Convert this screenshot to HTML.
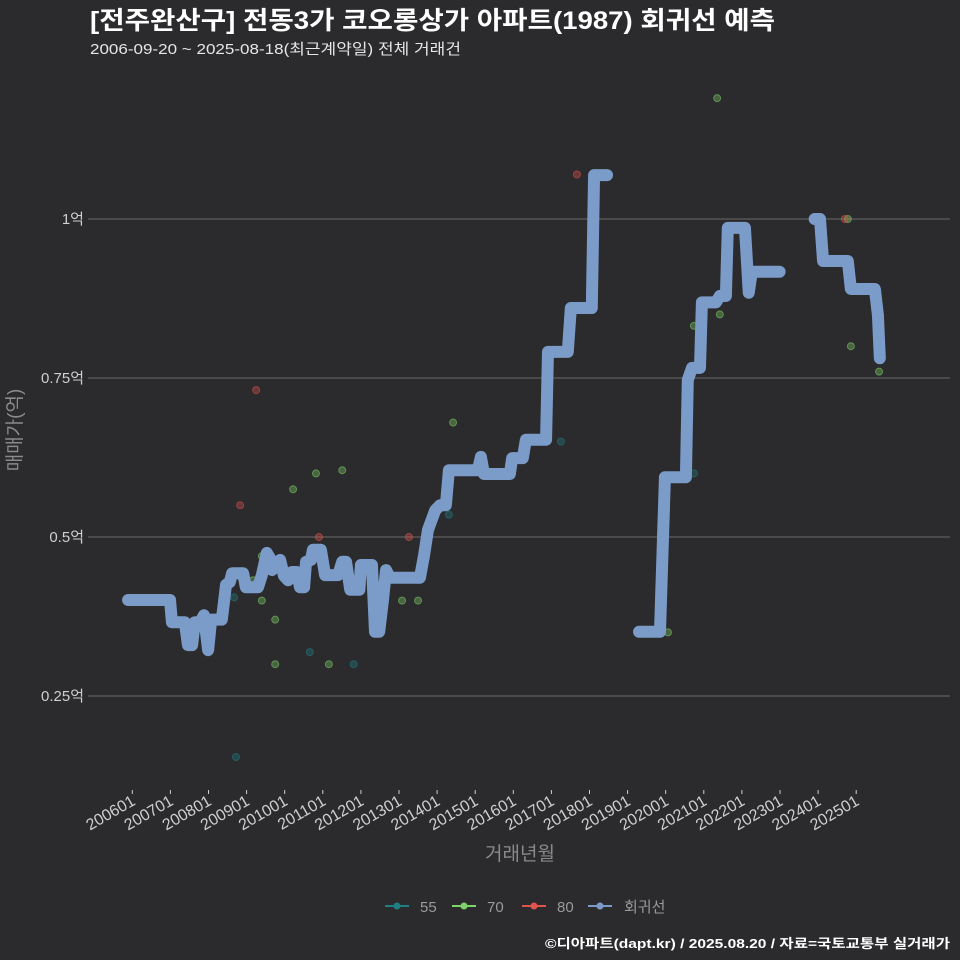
<!DOCTYPE html>
<html><head><meta charset="utf-8"><style>
html,body{margin:0;padding:0;background:#2b2a2c;width:960px;height:960px;overflow:hidden}
svg text{font-family:"Liberation Sans","Noto Sans CJK KR",sans-serif}
</style></head><body>
<svg id="chart" width="960" height="960" xmlns="http://www.w3.org/2000/svg">
<rect width="960" height="960" fill="#2b2a2c"/>
<text x="90" y="29" font-size="25" font-weight="bold" fill="#ffffff" textLength="685" lengthAdjust="spacingAndGlyphs">[전주완산구] 전동3가 코오롱상가 아파트(1987) 회귀선 예측</text>
<text x="90" y="54" font-size="15" fill="#e6e6e6" textLength="371" lengthAdjust="spacingAndGlyphs">2006-09-20 ~ 2025-08-18(최근계약일) 전체 거래건</text>
<g id="grid"></g>
<g id="yaxis"></g>
<g id="xaxis"></g>
<g id="dots"></g>
<g id="line"></g>
<text x="21" y="430" font-size="19" fill="#8a8a8a" text-anchor="middle" transform="rotate(-90 21 430)">매매가(억)</text>
<text x="520" y="860" font-size="19" fill="#8a8a8a" text-anchor="middle">거래년월</text>
<g font-size="15" fill="#9a9a9a">
<g><line x1="385" y1="906" x2="409" y2="906" stroke="#1f7f84" stroke-width="2"/><circle cx="397" cy="906" r="3.5" fill="#1f7f84"/><text x="420" y="912">55</text></g>
<g><line x1="452" y1="906" x2="476" y2="906" stroke="#7ed26a" stroke-width="2"/><circle cx="464" cy="906" r="3.5" fill="#7ed26a"/><text x="487" y="912">70</text></g>
<g><line x1="522" y1="906" x2="546" y2="906" stroke="#e0534f" stroke-width="2"/><circle cx="534" cy="906" r="3.5" fill="#e0534f"/><text x="557" y="912">80</text></g>
<g><line x1="588" y1="906" x2="612" y2="906" stroke="#7b9cc8" stroke-width="2"/><circle cx="600" cy="906" r="3.5" fill="#7b9cc8"/><text x="624" y="912">회귀선</text></g>
</g>
<text x="950" y="948" font-size="13" font-weight="bold" fill="#ffffff" text-anchor="end" textLength="405" lengthAdjust="spacingAndGlyphs">©디아파트(dapt.kr) / 2025.08.20 / 자료=국토교통부 실거래가</text>
</svg>
<script>
const yTicks=[0.25,0.5,0.75,1];
const yTickLabels=["0.25억","0.5억","0.75억","1억"];
const xTicks=[2006,2007,2008,2009,2010,2011,2012,2013,2014,2015,2016,2017,2018,2019,2020,2021,2022,2023,2024,2025];
const xTickLabels=["200601","200701","200801","200901","201001","201101","201201","201301","201401","201501","201601","201701","201801","201901","202001","202101","202201","202301","202401","202501"];
const s55T=[2008.72,2010.66,2011.81,2014.31,2017.25,2020.74,2008.67];
const s55V=[0.154,0.319,0.300,0.535,0.650,0.600,0.405];
const s70T=[2009.17,2009.40,2009.40,2009.75,2009.75,2010.22,2010.82,2011.16,2011.51,2013.08,2013.50,2014.42,2020.74,2021.35,2021.42,2024.78,2024.86,2025.60,2020.06];
const s70V=[0.432,0.400,0.470,0.370,0.300,0.575,0.600,0.300,0.605,0.400,0.400,0.680,0.832,1.190,0.850,1.000,0.800,0.760,0.350];
const s80T=[2008.83,2009.25,2010.90,2013.26,2017.67,2024.70];
const s80V=[0.550,0.731,0.500,0.500,1.070,1.000];
const regT=[2005.89,2006.99,2007.04,2007.38,2007.46,2007.57,2007.64,2007.78,2007.88,2007.99,2008.07,2008.35,2008.46,2008.56,2008.62,2008.91,2008.98,2009.30,2009.40,2009.53,2009.61,2009.67,2009.88,2009.98,2010.09,2010.19,2010.32,2010.40,2010.51,2010.56,2010.69,2010.74,2010.95,2011.06,2011.40,2011.51,2011.61,2011.72,2011.96,2012.00,2012.29,2012.37,2012.48,2012.58,2012.66,2012.76,2013.55,2013.66,2013.76,2013.84,2013.95,2014.08,2014.23,2014.31,2015.07,2015.15,2015.23,2015.91,2015.97,2016.25,2016.33,2016.86,2016.91,2017.43,2017.51,2018.06,2018.12,2018.46,null,2019.30,2019.85,2019.98,2020.53,2020.58,2020.69,2020.90,2020.95,2021.32,2021.42,2021.58,2021.63,2022.08,2022.18,2022.26,2022.39,2022.99,null,2023.91,2024.05,2024.13,2024.78,2024.86,2025.49,2025.57,2025.62];
const regV=[0.401,0.401,0.366,0.366,0.330,0.330,0.366,0.366,0.377,0.322,0.370,0.370,0.425,0.429,0.443,0.443,0.421,0.421,0.440,0.475,0.467,0.448,0.464,0.439,0.432,0.445,0.445,0.421,0.421,0.461,0.464,0.480,0.480,0.440,0.440,0.461,0.461,0.417,0.417,0.456,0.456,0.351,0.351,0.401,0.448,0.436,0.436,0.472,0.511,0.524,0.542,0.550,0.550,0.605,0.605,0.626,0.599,0.599,0.624,0.624,0.653,0.653,0.791,0.791,0.860,0.860,1.069,1.069,null,0.351,0.351,0.594,0.594,0.747,0.766,0.766,0.869,0.869,0.879,0.879,0.986,0.986,0.884,0.917,0.917,0.917,null,1.000,1.000,0.934,0.934,0.890,0.890,0.849,0.781];

const NS="http://www.w3.org/2000/svg";
const X=t=>132.3+(t-2006)*38.1;
const Y=v=>219+(1-v)*636;
function mk(tag,attrs,parent){const e=document.createElementNS(NS,tag);for(const k in attrs)e.setAttribute(k,attrs[k]);parent.appendChild(e);return e;}
const grid=document.getElementById('grid'),ya=document.getElementById('yaxis'),xa=document.getElementById('xaxis');
yTicks.forEach((v,i)=>{
  const l=mk('line',{x1:88,x2:950,y1:Y(v),y2:Y(v),stroke:'#6a6a6a','stroke-width':1},grid);
  
  
  const t=mk('text',{x:84,y:Y(v)+5,'font-size':15,fill:'#cfcfcf','text-anchor':'end'},ya);
  t.textContent=yTickLabels[i];
  
  
});
xTicks.forEach((tv,i)=>{
  const x=X(tv);
  const l=mk('line',{x1:x,x2:x,y1:790,y2:794,stroke:'#cfcfcf','stroke-width':1},xa);
  
  
  const t=mk('text',{x:x+4,y:804,'font-size':16,fill:'#cfcfcf','text-anchor':'end',transform:`rotate(-30 ${x+4} 804)`},xa);
  t.textContent=xTickLabels[i];
  
  
});
const dots=document.getElementById('dots');
[[s55T,s55V,'#1f7f84','55'],[s70T,s70V,'#7ed26a','70'],[s80T,s80V,'#e0534f','80']].forEach(([T,V,c,n])=>{
  T.forEach((t,i)=>{
    const d=mk('circle',{cx:X(t),cy:Y(V[i]),r:3.5,fill:c,'fill-opacity':0.35,stroke:c,'stroke-opacity':0.55},dots);
    
    
  });
});
const lg=document.getElementById('line');
let seg=[];
function flush(){if(seg.length){const p=mk('polyline',{points:seg.join(' '),fill:'none',stroke:'#7b9cc8','stroke-width':12,'stroke-linejoin':'round','stroke-linecap':'round'},lg);
  
  
  seg=[];}}
regT.forEach((t,i)=>{if(t===null){flush();}else seg.push(X(t)+','+Y(regV[i]));});
flush();
</script>
</body></html>
